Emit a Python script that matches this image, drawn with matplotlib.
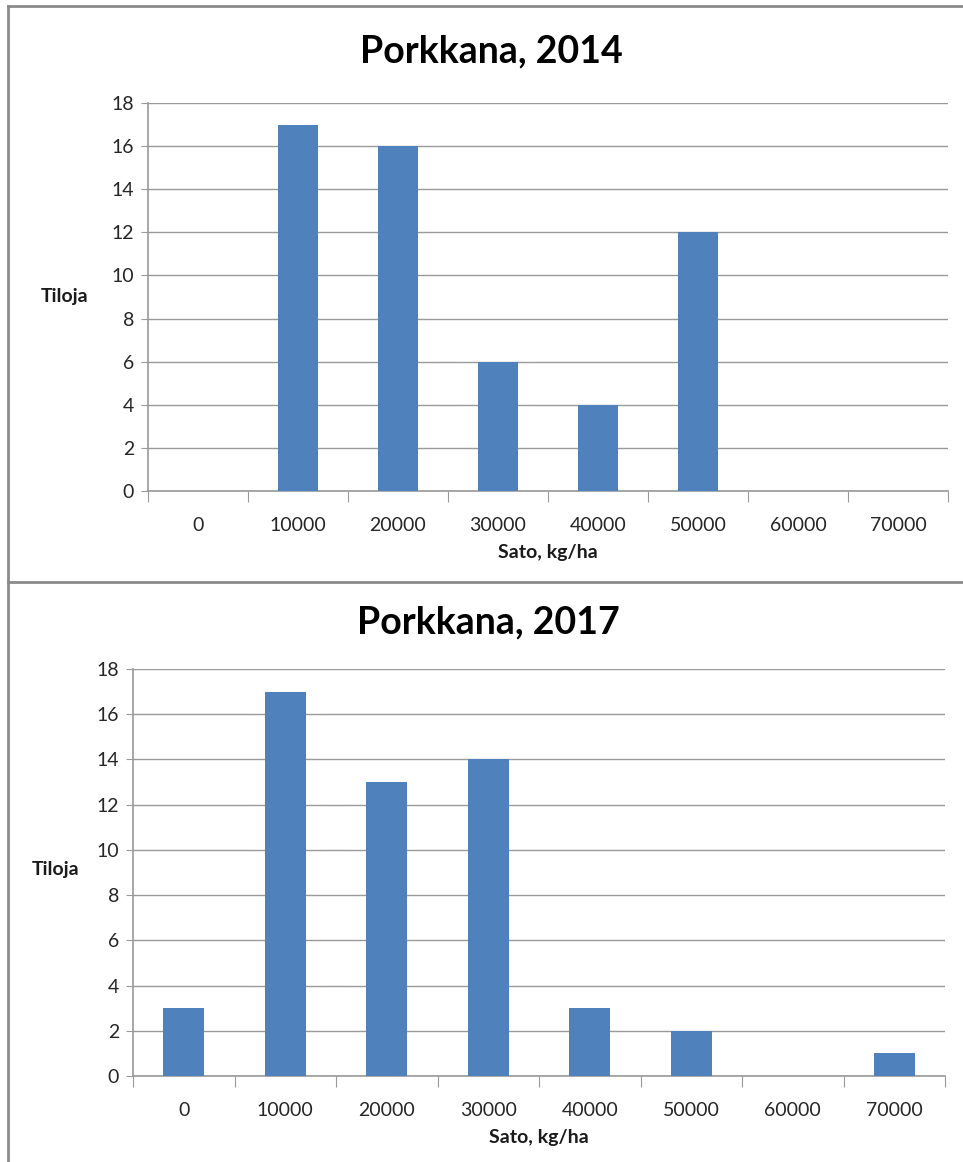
import matplotlib
matplotlib.use('Agg')
import matplotlib.pyplot as plt
from matplotlib.lines import Line2D
from matplotlib.ticker import FixedLocator

plt.rcParams['font.family'] = ['Lato', 'DejaVu Sans']

# data
categories = ['0', '10000', '20000', '30000', '40000', '50000', '60000', '70000']
tiloja_2014 = [0, 17, 16, 6, 4, 12, 0, 0]
tiloja_2017 = [3, 17, 13, 14, 3, 2, 0, 1]
y_ticks = [0, 2, 4, 6, 8, 10, 12, 14, 16, 18]

W, H = 963, 1162
fig = plt.figure(figsize=(W / 100, H / 100), dpi=100)
fig.patch.set_facecolor('white')

bar_color = '#4F81BD'
grid_color = '#999999'


def px(x0, y0, x1, y1):
    # pixel box -> figure fraction rect
    return [x0 / W, 1 - y1 / H, (x1 - x0) / W, (y1 - y0) / H]


def draw_chart(rect, values, title, title_xy, ylab_xy, xlab_y):
    ax = fig.add_axes(rect)
    xs = list(range(len(categories)))
    ax.bar(xs, values, width=0.4, color=bar_color, zorder=3)
    ax.set_xlim(-0.5, len(categories) - 0.5)
    ax.set_ylim(0, 18)
    ax.set_yticks(y_ticks)
    ax.yaxis.grid(True, color=grid_color, linewidth=1.0, zorder=0)
    ax.tick_params(axis='y', length=5, color=grid_color, labelsize=14,
                   labelcolor='#262626', pad=5)
    # major ticks on category boundaries, labels at centres
    ax.xaxis.set_major_locator(FixedLocator([i - 0.5 for i in range(len(categories) + 1)]))
    ax.set_xticklabels([])
    ax.xaxis.set_minor_locator(FixedLocator(xs))
    ax.set_xticklabels(categories, minor=True)
    ax.tick_params(axis='x', which='major', length=8, color=grid_color, direction='out')
    ax.tick_params(axis='x', which='minor', length=0, labelsize=14,
                   labelcolor='#262626', pad=19)
    for s in ['top', 'right']:
        ax.spines[s].set_visible(False)
    for s in ['left', 'bottom']:
        ax.spines[s].set_color(grid_color)
        ax.spines[s].set_linewidth(1.2)
    ax.set_axisbelow(True)

    cx = rect[0] + rect[2] / 2
    fig.text(cx, 1 - xlab_y / H, 'Sato, kg/ha', ha='center', va='center',
             fontsize=14, fontweight='bold', color='#1a1a1a')
    fig.text(ylab_xy[0] / W, 1 - ylab_xy[1] / H, 'Tiloja', ha='center', va='center',
             fontsize=14, fontweight='bold', color='#1a1a1a')
    fig.text(title_xy[0] / W, 1 - title_xy[1] / H, title, ha='center', va='center',
             fontsize=27, fontweight='bold', color='black')
    return ax


draw_chart(px(148, 103, 948, 491), tiloja_2014, 'Porkkana, 2014',
           (491, 51), (65, 297), 553)
draw_chart(px(133, 669, 945, 1076), tiloja_2017, 'Porkkana, 2017',
           (488, 622), (56, 870), 1138)

# chart frames
frame = '#8a8a8a'
fig.add_artist(Line2D([8 / W, 1], [1 - 6 / H, 1 - 6 / H], color=frame, linewidth=2))
fig.add_artist(Line2D([8 / W, 8 / W], [0, 1 - 6 / H], color=frame, linewidth=2))
fig.add_artist(Line2D([8 / W, 1], [1 - 582 / H, 1 - 582 / H], color=frame, linewidth=2))

fig.savefig('out.png', dpi=100)
